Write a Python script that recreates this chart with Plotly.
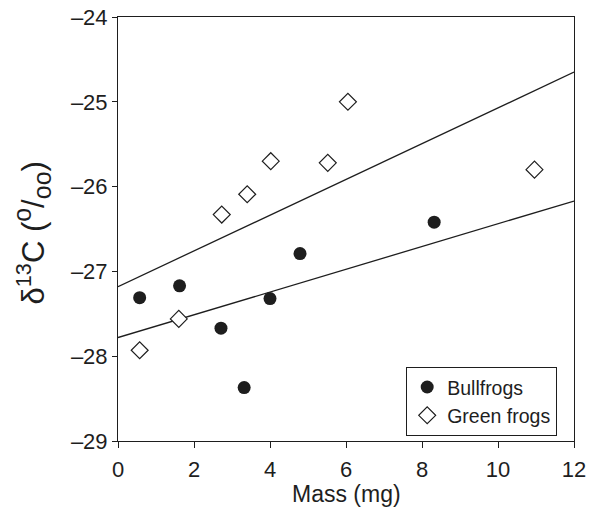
import plotly.graph_objects as go

# Data
bull_mass = [0.57, 1.62, 2.71, 3.32, 4.0, 4.79, 8.32]
bull_d13c = [-27.31, -27.17, -27.67, -28.37, -27.32, -26.79, -26.42]

green_mass = [0.57, 1.6, 2.73, 3.4, 4.02, 5.52, 6.05, 10.96]
green_d13c = [-27.93, -27.56, -26.33, -26.09, -25.70, -25.72, -25.0, -25.80]

# Regression lines (intercept, slope)
bull_fit = (-27.78, (-26.17 - -27.78) / 12)
green_fit = (-27.18, (-24.65 - -27.18) / 12)
fit_x = [0, 12]

x_ticks = [0, 2, 4, 6, 8, 10, 12]
y_ticks = [-29, -28, -27, -26, -25, -24]
y_tick_text = ["\u201329", "\u201328", "\u201327", "\u201326", "\u201325", "\u201324"]

x_title = "Mass (mg)"
y_title = ("\u03b4<sup>13</sup>C (<sup><span style='font-size:25px'>o</span></sup>"
           "/<sub><span style='font-size:25px'>oo</span></sub>)")

FONT = "Liberation Sans, Arial, sans-serif"
INK = "#1e1e1e"

fig = go.Figure()

fig.add_trace(go.Scatter(
    x=fit_x, y=[bull_fit[0] + bull_fit[1] * v for v in fit_x],
    mode="lines", line=dict(color=INK, width=1.3), showlegend=False, hoverinfo="skip"))
fig.add_trace(go.Scatter(
    x=fit_x, y=[green_fit[0] + green_fit[1] * v for v in fit_x],
    mode="lines", line=dict(color=INK, width=1.3), showlegend=False, hoverinfo="skip"))

fig.add_trace(go.Scatter(
    x=bull_mass, y=bull_d13c, mode="markers", name="Bullfrogs",
    marker=dict(symbol="circle", size=13, color=INK, line=dict(width=0))))
fig.add_trace(go.Scatter(
    x=green_mass, y=green_d13c, mode="markers", name="Green frogs",
    marker=dict(symbol="diamond", size=13, color="white", line=dict(color=INK, width=1.2))))

fig.update_layout(
    width=595, height=508,
    margin=dict(l=118, r=21, t=17, b=67),
    paper_bgcolor="white", plot_bgcolor="white",
    font=dict(family=FONT, color=INK, size=21),
    legend=dict(
        x=0.632, y=0.175, xanchor="left", yanchor="top",
        bordercolor=INK, borderwidth=1, bgcolor="white",
        font=dict(size=19.5, family=FONT, color=INK),
        tracegroupgap=0, itemwidth=30,
    ),
    annotations=[
        dict(text=x_title, xref="paper", yref="paper", x=0.5, y=-0.09,
             xanchor="center", yanchor="top", showarrow=False,
             font=dict(size=23, family=FONT, color=INK)),
        dict(text=y_title, xref="paper", yref="paper", x=-0.188, y=0.49,
             xanchor="center", yanchor="middle", showarrow=False, textangle=-90,
             font=dict(size=31, family=FONT, color=INK)),
    ],
)

fig.update_xaxes(
    range=[0, 12], tickvals=x_ticks, ticktext=[str(v) for v in x_ticks],
    showgrid=False, zeroline=False, automargin=False,
    showline=True, linecolor=INK, linewidth=1, mirror=True,
    ticks="outside", ticklen=6, tickcolor=INK, tickwidth=1,
    ticklabelstandoff=3,
    tickfont=dict(size=22, family=FONT, color=INK),
)
fig.update_yaxes(
    range=[-29, -24], tickvals=y_ticks, ticktext=y_tick_text,
    showgrid=False, zeroline=False, automargin=False,
    showline=True, linecolor=INK, linewidth=1, mirror=True,
    ticks="outside", ticklen=5, tickcolor=INK, tickwidth=1,
    tickfont=dict(size=22, family=FONT, color=INK),
)

# remove the page's default 8px body margin so the figure fills the window
fig.write_html("out.html", config={"displayModeBar": False},
               post_script="document.body.style.margin='0px';")
